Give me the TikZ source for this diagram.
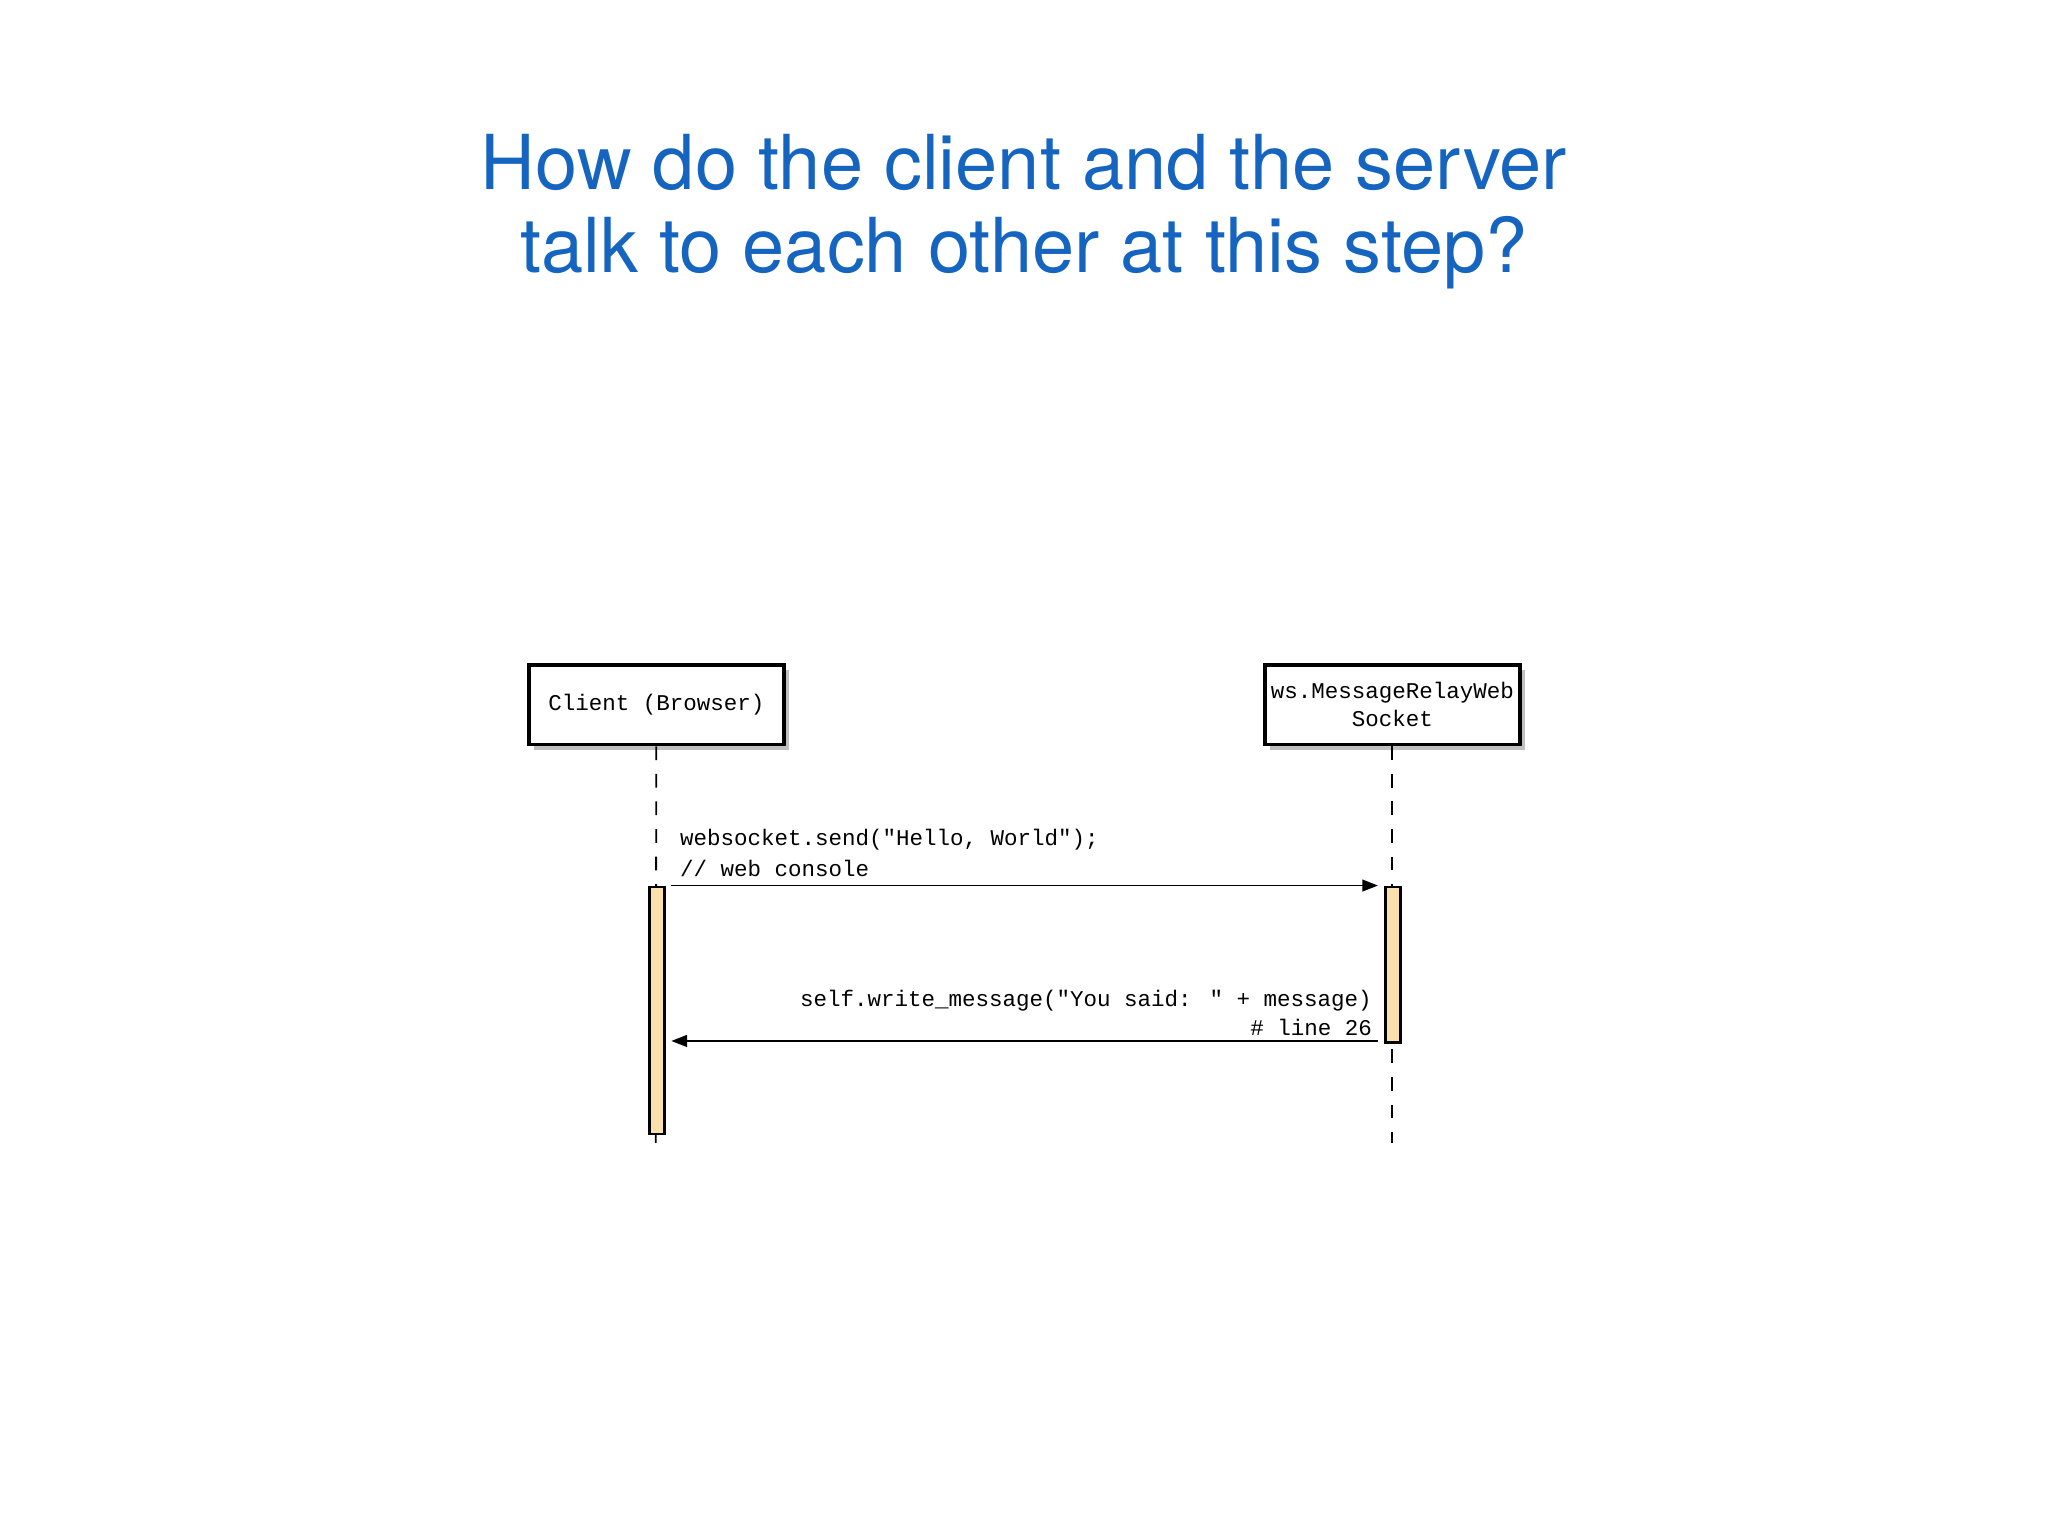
\documentclass[tikz,border=0pt]{standalone}
\usepackage{fontspec}
\setmainfont{TeX Gyre Heros}
\newfontfamily\monof{Liberation Mono}
\usetikzlibrary{arrows.meta,shadows}
\definecolor{ttl}{RGB}{21,101,192}
\definecolor{act}{RGB}{250,224,170}
\tikzset{
 px/.style={x=0.01cm,y=-0.01cm},
 actor/.style={draw,thick,fill=white,minimum width=1.95cm,minimum height=0.61cm,align=center,font=\monof\fontsize{4.9}{6}\selectfont,inner sep=0pt,drop shadow={shadow xshift=0.04cm,shadow yshift=-0.04cm,fill=black!50}},
 life/.style={dashed,thin},
 actbar/.style={draw,fill=act,semithick},
 msg/.style={-{Triangle[length=0.12cm,width=0.09cm]},thin},
 lbl/.style={font=\monof\fontsize{4.9}{6}\selectfont,inner sep=0pt}
}
\begin{document}
\begin{tikzpicture}[px]
\useasboundingbox (0,0) rectangle (1568,1176);
\node[text=ttl,font=\fontsize{16.5}{19}\selectfont,align=center] (title) at (784,162) {How do the client and the server\\[-1pt]talk to each other at this step?};
\node[actor] (cl) at (502.5,539.5) {Client (Browser)};
\node[actor] (sv) at (1066,539.5) {ws.MessageRelayWeb\\Socket};
\coordinate (clend) at (502,875);
\coordinate (svend) at (1066,875);
\draw[life] (cl.south) -- (clend);
\draw[life] (sv.south) -- (svend);
\node[actbar,minimum width=0.12cm,minimum height=1.89cm,inner sep=0pt,anchor=north] (ca) at (503,678) {};
\node[actbar,minimum width=0.11cm,minimum height=1.19cm,inner sep=0pt,anchor=north] (sa) at (1066.5,678) {};
\coordinate (m1s) at (514,678);
\coordinate (m1e) at (1055,678);
\draw[msg] (m1s) -- (m1e);
\coordinate (m2s) at (1055,797);
\coordinate (m2e) at (514,797);
\draw[msg] (m2s) -- (m2e);
\node[lbl,anchor=west] (l1) at (520,643) {websocket.send("Hello, World");};
\node[lbl,anchor=west] (l2) at (520,665) {// web console};
\node[lbl,anchor=east] (l3) at (1051,766) {self.write\_message("You said: " + message)};
\node[lbl,anchor=east] (l4) at (1051,787) {\# line 26};
\end{tikzpicture}
\end{document}
